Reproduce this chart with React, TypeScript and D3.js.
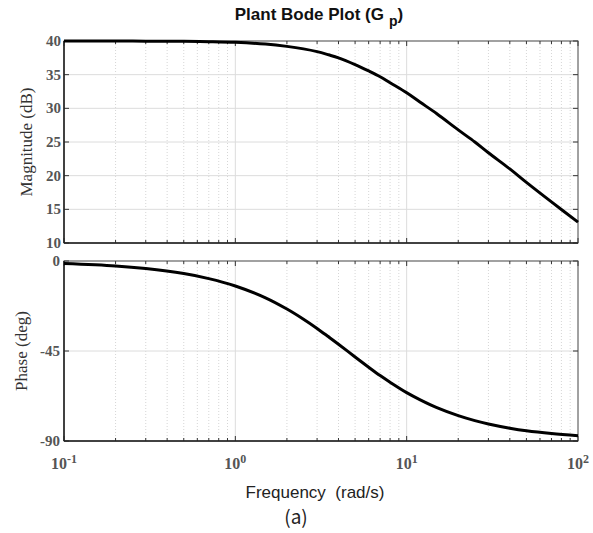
import React from 'react';
import * as d3 from 'd3';

// values
const freqs = [0.1, 0.2, 0.3, 0.5, 0.7, 1, 1.5, 2, 2.5, 3, 3.5, 4, 5, 6, 7, 8, 10, 12, 15, 20, 25, 30, 40, 50, 70, 100];
const magnitudeDb = [40.0, 40.0, 39.98, 39.95, 39.9, 39.8, 39.54, 39.2, 38.83, 38.42, 37.95, 37.5, 36.5, 35.56, 34.7, 33.8, 32.3, 30.9, 29.2, 26.8, 25.0, 23.4, 21.0, 19.0, 16.1, 13.1];
const phaseDeg = [-1.3, -2.5, -3.8, -6.3, -8.8, -12.5, -18.4, -24, -29.1, -33.7, -37.9, -41.6, -48, -53.1, -57.3, -60.6, -65.8, -69.4, -73.3, -77.3, -79.8, -81.5, -83.6, -84.9, -86.3, -87.4];
const magTicks = [10, 15, 20, 25, 30, 35, 40];
const phaseTicks = [-90, -45, 0];
const decades = [0.1, 1, 10, 100];
const exponents = ['-1', '0', '1', '2'];

const W = 593;
const H = 533;
const left = 64;
const right = 578;

const x = d3.scaleLog().domain([0.1, 100]).range([left, right]);
const yMag = d3.scaleLinear().domain([10, 40]).range([243, 41]);
const yPh = d3.scaleLinear().domain([-90, 0]).range([441, 261]);

const minors: number[] = [];
decades.slice(0, 3).forEach((d) => {
  for (let k = 2; k <= 9; k++) minors.push(d * k);
});

const serif = '"Liberation Serif", "DejaVu Serif", serif';
const sans = '"Liberation Sans", Arial, sans-serif';

function Panel({ y, ticks, values, labelX }: any) {
  const [y0, y1] = y.range(); // bottom, top
  const line = d3
    .line<number>()
    .x((_, i) => x(freqs[i]))
    .y((v) => y(v))
    .curve(d3.curveCatmullRom.alpha(0.5));
  return (
    <g>
      {/* minor dotted grid */}
      {minors.map((m) => (
        <line key={'mg' + m} x1={x(m)} x2={x(m)} y1={y1} y2={y0} stroke="#d6d6d6" strokeDasharray="1,2" />
      ))}
      {/* major grid */}
      {decades.slice(1, 3).map((d) => (
        <line key={'dg' + d} x1={x(d)} x2={x(d)} y1={y1} y2={y0} stroke="#dcdcdc" />
      ))}
      {ticks.slice(1, -1).map((t: number) => (
        <line key={'hg' + t} x1={left} x2={right} y1={y(t)} y2={y(t)} stroke="#dcdcdc" />
      ))}
      {/* ticks top/bottom */}
      {minors.map((m) => (
        <g key={'mt' + m}>
          <line x1={x(m)} x2={x(m)} y1={y0} y2={y0 - 3} stroke="#333" />
          <line x1={x(m)} x2={x(m)} y1={y1} y2={y1 + 3} stroke="#333" />
        </g>
      ))}
      {decades.map((d) => (
        <g key={'dt' + d}>
          <line x1={x(d)} x2={x(d)} y1={y0} y2={y0 - 5} stroke="#333" />
          <line x1={x(d)} x2={x(d)} y1={y1} y2={y1 + 5} stroke="#333" />
        </g>
      ))}
      {ticks.map((t: number) => (
        <g key={'yt' + t}>
          <line x1={left} x2={left + 5} y1={y(t)} y2={y(t)} stroke="#333" />
          <line x1={right} x2={right - 5} y1={y(t)} y2={y(t)} stroke="#333" />
          <text x={labelX} y={y(t) + 5} textAnchor="end" fontFamily={serif} fontWeight="bold" fontSize={15} fill="#555">
            {t}
          </text>
        </g>
      ))}
      {/* box */}
      <rect x={left} y={y1} width={right - left} height={y0 - y1} fill="none" stroke="#444" strokeWidth={1} />
      <line x1={left} x2={left} y1={y1} y2={y0} stroke="#222" strokeWidth={1.5} />
      <line x1={left} x2={right} y1={y0} y2={y0} stroke="#222" strokeWidth={1.5} />
      <path d={line(values) || ''} fill="none" stroke="#000" strokeWidth={3} strokeLinejoin="round" />
    </g>
  );
}

export default function App() {
  return (
    <svg width={W} height={H} style={{ position: 'absolute', left: 0, top: 0, background: '#fff' }}>
      <rect width={W} height={H} fill="#fff" />
      <text x={319} y={20} textAnchor="middle" fontFamily={sans} fontWeight="bold" fontSize={17} fill="#111">
        Plant Bode Plot (G
        <tspan dx={5} dy={6} fontSize={14}>p</tspan>
        <tspan dy={-6}>)</tspan>
      </text>
      <Panel y={yMag} ticks={magTicks} values={magnitudeDb} labelX={61} />
      <Panel y={yPh} ticks={phaseTicks} values={phaseDeg} labelX={60} />
      <text transform="translate(32,142) rotate(-90)" textAnchor="middle" fontFamily={serif} fontSize={17} fill="#333">
        Magnitude (dB)
      </text>
      <text transform="translate(27,351) rotate(-90)" textAnchor="middle" fontFamily={serif} fontSize={17} fill="#333">
        Phase (deg)
      </text>
      {decades.map((d, i) => (
        <text key={'xl' + d} x={x(d)} y={469} textAnchor="middle" fontFamily={serif} fontWeight="bold" fontSize={16} fill="#555">
          10
          <tspan dy={-6} fontSize={12}>{exponents[i]}</tspan>
        </text>
      ))}
      <text x={315} y={498} textAnchor="middle" fontFamily={sans} fontSize={17} fill="#222">
        Frequency{'\u00a0\u00a0'}(rad/s)
      </text>
      <text x={296} y={524} textAnchor="middle" fontFamily={'"Noto Sans CJK KR", sans-serif'} fontSize={19} fill="#222">
        (a)
      </text>
    </svg>
  );
}
